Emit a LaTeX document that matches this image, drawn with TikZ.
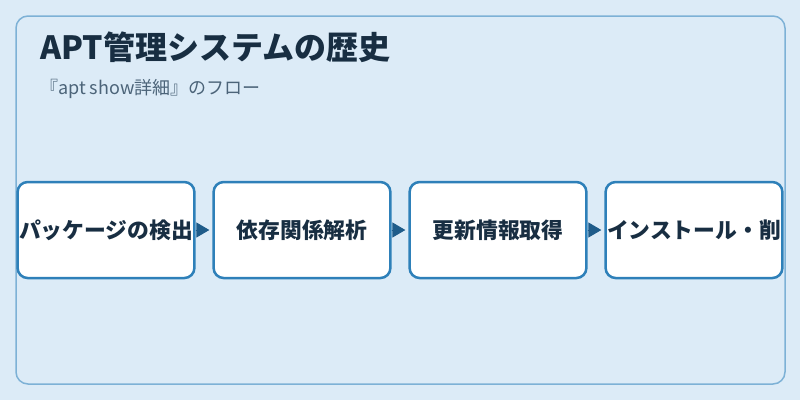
\documentclass[tikz,border=0pt]{standalone}
\usepackage{fontspec}
\setmainfont{Noto Sans CJK JP}
\usetikzlibrary{positioning,arrows.meta}
\usepackage{xcolor}
\definecolor{pagebg}{HTML}{DCEBF7}
\definecolor{framecol}{HTML}{7DB1D6}
\definecolor{boxline}{HTML}{2E80B9}
\definecolor{arrowcol}{HTML}{1F5C8A}
\definecolor{titlecol}{HTML}{182E42}
\definecolor{subcol}{HTML}{4C6479}

\tikzset{
    stepbox/.style={draw=boxline, line width=2.5pt, fill=white, rounded corners=10pt,
        minimum width=176.8pt, minimum height=96pt, inner sep=0pt,
        font=\fontsize{21.8}{26}\selectfont\bfseries, text=titlecol},
    flow/.style={-{Triangle[length=13pt,width=15pt]}, draw=arrowcol, fill=arrowcol, line width=1pt, shorten >=3pt}
}

\begin{document}
\begin{tikzpicture}[x=1pt, y=-1pt]
    % Background
    \fill[pagebg] (0,0) rectangle (800,400);
    \useasboundingbox (0,0) rectangle (800,400);
    \draw[framecol, line width=1.5pt, rounded corners=12pt] (16,16) rectangle (785,384);

    % Title
    \node[anchor=west, inner sep=0pt, text=titlecol, font=\fontsize{32}{38}\selectfont\bfseries] (title) at (40,47) {APT管理システムの歴史};
    \node[anchor=west, inner sep=0pt, text=subcol, font=\fontsize{18}{22}\selectfont] (sub) at (40,89) {『apt show詳細』のフロー};

    % Steps
    \node[stepbox] (detect) at (106,230) {パッケージの検出};
    \node[stepbox, right=16.7pt of detect] (deps) {依存関係解析};
    \node[stepbox, right=16.7pt of deps] (update) {更新情報取得};
    \node[stepbox, right=16.7pt of update] (install) {インストール・削};

    % Arrows
    \draw[flow] (detect) -- (deps);
    \draw[flow] (deps) -- (update);
    \draw[flow] (update) -- (install);
\end{tikzpicture}
\end{document}
